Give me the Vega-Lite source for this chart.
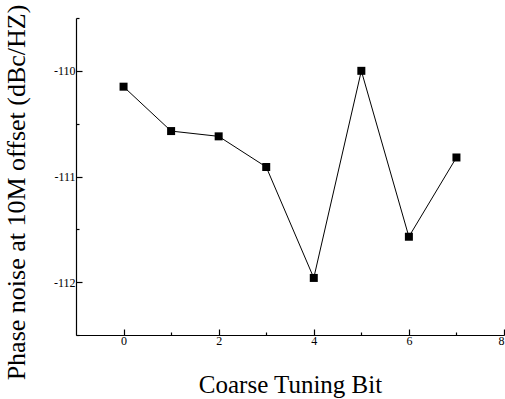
{
  "$schema": "https://vega.github.io/schema/vega-lite/v6.json",
  "width": 428,
  "height": 317,
  "autosize": "none",
  "padding": {"left": 76, "top": 18, "right": 1, "bottom": 64},
  "background": "white",
  "config": {"view": {"stroke": null}, "axis": {"labelFont": "Liberation Serif", "titleFont": "Liberation Serif"}},
  "data": {"values": [
    {"bit": 0, "noise": -110.15},
    {"bit": 1, "noise": -110.57},
    {"bit": 2, "noise": -110.62},
    {"bit": 3, "noise": -110.91},
    {"bit": 4, "noise": -111.96},
    {"bit": 5, "noise": -110.0},
    {"bit": 6, "noise": -111.57},
    {"bit": 7, "noise": -110.82}
  ]},
  "layer": [
    {
      "mark": {"type": "line", "color": "black", "strokeWidth": 1},
      "encoding": {
        "x": {"field": "bit", "type": "quantitative", "scale": {"domain": [-1, 8], "nice": false, "zero": false},
          "axis": {"orient": "bottom", "title": "Coarse Tuning Bit", "values": [0, 1, 2, 3, 4, 5, 6, 7, 8], "grid": false,
            "labelExpr": "datum.value % 2 === 0 ? '' + datum.value : ''",
            "tickSize": {"condition": {"test": "datum.value % 2 === 0", "value": -6}, "value": -3},
            "labelPadding": 6, "labelFontSize": 12, "labelColor": "black",
            "titleFontSize": 25, "titleFontWeight": "normal", "titleColor": "black",
            "titleBaseline": "alphabetic", "titleY": 57,
            "domainColor": "black", "tickColor": "black", "domainWidth": 1.2, "tickWidth": 1.2}},
        "y": {"field": "noise", "type": "quantitative", "scale": {"domain": [-112.5, -109.5], "nice": false, "zero": false},
          "axis": {"orient": "left", "title": "Phase noise at 10M offset (dBc/HZ)", "values": [-112.5, -112, -111.5, -111, -110.5, -110, -109.5], "grid": false,
            "labelExpr": "datum.value % 1 === 0 ? '' + datum.value : ''",
            "tickSize": {"condition": {"test": "datum.value % 1 === 0", "value": -6}, "value": -3},
            "labelPadding": 7, "labelFontSize": 12, "labelColor": "black",
            "titleFontSize": 26, "titleFontWeight": "normal", "titleColor": "black",
            "titleBaseline": "alphabetic", "titleX": -52, "titleY": 174,
            "domainColor": "black", "tickColor": "black", "domainWidth": 1.2, "tickWidth": 1.2}}
      }
    },
    {
      "mark": {"type": "square", "color": "black", "filled": true, "opacity": 1, "size": 64},
      "encoding": {
        "x": {"field": "bit", "type": "quantitative"},
        "y": {"field": "noise", "type": "quantitative"}
      }
    }
  ]
}
